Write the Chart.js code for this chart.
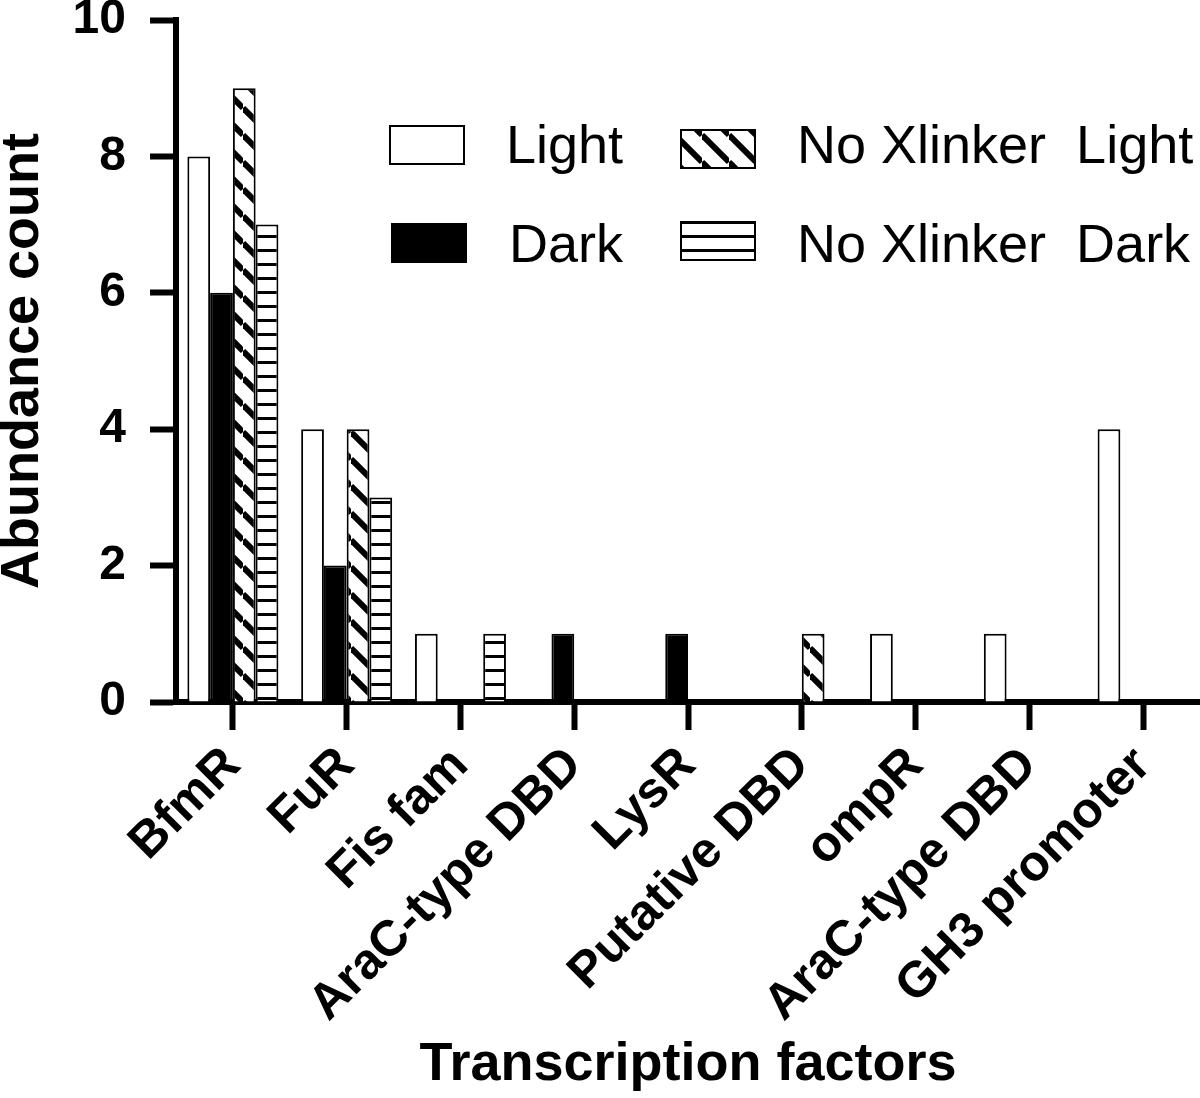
<!DOCTYPE html>
<html>
<head>
<meta charset="utf-8">
<script src="https://cdn.jsdelivr.net/npm/chart.js@4.4.1/dist/chart.umd.min.js"></script>
<style>
  html, body { margin: 0; padding: 0; background: #fff; }
  #wrap { width: 1200px; height: 1098px; }
</style>
</head>
<body>
<div id="wrap"><canvas id="tfChart" width="1200" height="1098"></canvas></div>
<script>
// categories and series
const factors = ['BfmR', 'FuR', 'Fis fam', 'AraC-type DBD', 'LysR', 'Putative DBD', 'ompR', 'AraC-type DBD', 'GH3 promoter'];
const lightCounts = [8, 4, 1, 0, 0, 0, 1, 1, 4];
const darkCounts = [6, 2, 0, 1, 1, 0, 0, 0, 0];
const noXlinkerLight = [9, 4, 0, 0, 0, 1, 0, 0, 0];
const noXlinkerDark = [7, 3, 1, 0, 0, 0, 0, 0, 0];
const yTicks = [0, 2, 4, 6, 8, 10];

const FONT = "'Liberation Sans', Arial, sans-serif";

// hatch fills
function diagonalPattern() {
    const s = 27;
    const c = document.createElement('canvas');
    c.width = s; c.height = s;
    const g = c.getContext('2d');
    g.fillStyle = '#fff';
    g.fillRect(0, 0, s, s);
    g.strokeStyle = '#000';
    g.lineWidth = 6;
    [-s, 0, s].forEach(function (k) {
        g.beginPath();
        g.moveTo(0, k);
        g.lineTo(s, k + s);
        g.stroke();
    });
    return g.createPattern(c, 'repeat');
}

function stripePattern() {
    const c = document.createElement('canvas');
    c.width = 4; c.height = 14;
    const g = c.getContext('2d');
    g.fillStyle = '#fff';
    g.fillRect(0, 0, 4, 14);
    g.fillStyle = '#000';
    g.fillRect(0, 11, 4, 3);
    return g.createPattern(c, 'repeat');
}

const hatchFill = diagonalPattern();
const stripeFill = stripePattern();

// legend drawn in two columns inside the plot, like the original
const legendBoxes = {
    id: 'legendBoxes',
    afterDraw(chart) {
        const ctx = chart.ctx;
        const spots = [
            { bx: 390, by: 126, tx: 506, ty: 163 },
            { bx: 392, by: 224, tx: 509, ty: 262 },
            { bx: 681, by: 130, tx: 797, ty: 163 },
            { bx: 681, by: 222, tx: 797, ty: 262 }
        ];
        ctx.save();
        chart.data.datasets.forEach(function (ds, i) {
            const p = spots[i];
            ctx.fillStyle = ds.backgroundColor;
            ctx.fillRect(p.bx, p.by, 74, 38);
            ctx.lineWidth = 2;
            ctx.strokeStyle = '#000';
            ctx.strokeRect(p.bx, p.by, 74, 38);
            ctx.fillStyle = '#000';
            ctx.font = '54px ' + FONT;
            ctx.textBaseline = 'alphabetic';
            ctx.textAlign = 'left';
            ctx.fillText(ds.label, p.tx, p.ty);
        });
        ctx.restore();
    }
};

new Chart(document.getElementById('tfChart'), {
    type: 'bar',
    data: {
        labels: factors,
        datasets: [
            { label: 'Light', data: lightCounts, backgroundColor: '#fff' },
            { label: 'Dark', data: darkCounts, backgroundColor: '#000' },
            { label: 'No Xlinker  Light', data: noXlinkerLight, backgroundColor: hatchFill },
            { label: 'No Xlinker  Dark', data: noXlinkerDark, backgroundColor: stripeFill }
        ].map(function (ds) {
            ds.borderColor = '#000';
            ds.borderWidth = 2;
            ds.borderSkipped = 'start';
            ds.categoryPercentage = 0.8;
            ds.barPercentage = 1.0;
            return ds;
        })
    },
    options: {
        responsive: false,
        animation: false,
        layout: { autoPadding: false, padding: { top: 20, right: 0, left: 0, bottom: 0 } },
        plugins: {
            legend: { display: false },
            tooltip: { enabled: false }
        },
        scales: {
            x: {
                offset: true,
                afterFit: function (scale) {
                    scale.height = 396;
                    scale.paddingLeft = 0;
                    scale.paddingRight = 0;
                },
                border: { display: true, color: '#000', width: 6 },
                grid: {
                    offset: false,
                    drawOnChartArea: false,
                    drawTicks: true,
                    tickLength: 28,
                    tickWidth: 6,
                    tickColor: '#000'
                },
                ticks: {
                    autoSkip: false,
                    maxRotation: 45,
                    minRotation: 45,
                    padding: 6,
                    color: '#000',
                    font: { family: FONT, size: 50, weight: 'bold' }
                },
                title: {
                    display: true,
                    text: 'Transcription factors',
                    color: '#000',
                    padding: { top: 0, bottom: 6 },
                    font: { family: FONT, size: 54, weight: 'bold', lineHeight: 1 }
                }
            },
            y: {
                min: 0,
                max: 10,
                afterFit: function (scale) {
                    scale.width = 176;
                    scale.paddingTop = 0;
                    scale.paddingBottom = 0;
                },
                afterBuildTicks: function (scale) {
                    scale.ticks = yTicks.map(function (v) { return { value: v }; });
                },
                border: { display: true, color: '#000', width: 6 },
                grid: {
                    drawOnChartArea: false,
                    drawTicks: true,
                    tickLength: 26,
                    tickWidth: 6,
                    tickColor: '#000'
                },
                ticks: {
                    padding: 24,
                    color: '#000',
                    font: { family: FONT, size: 48, weight: 'bold' }
                },
                title: {
                    display: true,
                    text: 'Abundance count',
                    color: '#000',
                    padding: { top: 0, bottom: 0 },
                    font: { family: FONT, size: 54, weight: 'bold', lineHeight: 0.85 }
                }
            }
        }
    },
    plugins: [legendBoxes]
});
</script>
</body>
</html>
